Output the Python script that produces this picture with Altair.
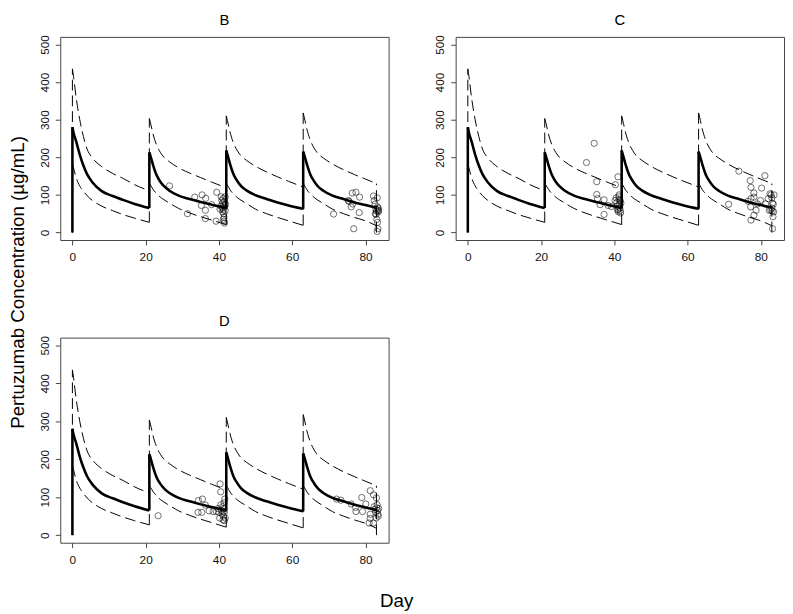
import altair as alt
import pandas as pd

FONT = "Liberation Sans"

# ---- simulated model profiles ----
DOSE_DAYS = [0, 21, 42, 63]
OFFSETS = [0, 0.3, 1, 2, 3, 4, 5.5, 8, 11, 14, 17, 21]
OFFSETS_LAST = [0, 0.3, 1, 2, 3, 4, 5.5, 8, 11, 14, 17, 20]

MEDIAN_C1 = [280, 265, 243, 207, 178, 155, 133, 110, 97, 86, 76, 65]
MEDIAN_C2 = [213, 204, 180, 152, 135, 123, 111, 98, 89, 81, 74, 65]
MEDIAN_C3 = [218, 208, 183, 154, 137, 124, 112, 99, 89, 80, 72, 63]
MEDIAN_C4 = [215, 206, 182, 153, 136, 123, 111, 98, 89, 80, 73, 66]

UPPER_C1 = [435, 415, 360, 300, 255, 222, 198, 175, 157, 143, 127, 111]
UPPER_C2 = [303, 292, 262, 232, 213, 200, 188, 172, 158, 146, 134, 119]
UPPER_C3 = [310, 298, 268, 237, 218, 204, 192, 176, 161, 148, 136, 121]
UPPER_C4 = [318, 306, 275, 244, 224, 210, 198, 182, 167, 154, 142, 130]

LOWER_C1 = [182, 172, 146, 124, 110, 98, 85, 70, 58, 47, 38, 27]
LOWER_C2 = [130, 126, 115, 103, 94, 87, 78, 64, 52, 42, 33, 21]
LOWER_C3 = [130, 126, 114, 102, 93, 86, 77, 62, 50, 40, 31, 19]
LOWER_C4 = [130, 126, 114, 102, 93, 86, 77, 62, 50, 40, 31, 18]

UPPER_END_DROP = 0  # upper band drops back to this value at the last day

# ---- observed concentrations ----
B_DAY = [26.5, 31.4, 33.4, 35.2, 35.4, 36.3, 36.3, 36.4, 38.0, 39.2, 39.4,
         40.3, 40.5, 40.6, 40.8, 41.0, 41.0, 41.1, 41.2, 41.3, 41.3, 41.4, 41.4,
         41.5, 41.5, 41.6, 41.7, 41.7, 41.8, 41.2, 41.0,
         71.3, 75.3, 75.5, 76.1, 76.4, 76.5, 76.8, 77.4, 78.3, 78.4,
         82.2, 82.4, 82.6, 82.8, 83.0, 83.2, 83.3, 83.4, 83.5, 82.9, 83.1, 83.3,
         83.4, 83.2, 82.7, 83.5, 83.6]
B_CONC = [124, 50, 94, 72, 100, 59, 37, 91, 74, 30, 107,
          62, 70, 95, 85, 65, 78, 90, 60, 50, 72, 40, 30,
          25, 82, 68, 95, 58, 75, 35, 55,
          49, 85, 83, 68, 105, 76, 10, 107, 53, 94,
          97, 85, 75, 63, 57, 92, 68, 60, 55, 48, 35, 27,
          10, 3, 50, 65, 58]

C_DAY = [32.4, 34.5, 35.2, 35.2, 35.4, 36.1, 37.2, 37.2, 38.3, 39.2, 40.3, 41.0,
         40.2, 40.5, 40.7, 40.8, 41.0, 41.1, 41.2, 41.3, 41.4, 41.5, 41.6, 41.7,
         41.3, 40.9, 41.8, 41.6,
         71.2, 74.0, 76.5, 77.1, 77.2, 77.3, 77.3, 77.3, 78.1, 78.1, 78.1, 78.7,
         79.1, 79.9, 80.2, 81.1, 81.3, 82.0, 82.3,
         82.5, 82.8, 83.0, 83.2, 83.4, 82.7, 83.1, 83.5, 83.3, 83.2, 83.6, 83.0]
C_CONC = [186, 237, 135, 101, 90, 74, 87, 48, 72, 69, 127, 148,
          85, 92, 80, 70, 62, 55, 95, 88, 75, 65, 58, 52,
          100, 60, 78, 85,
          75, 163, 83, 138, 68, 120, 90, 33, 105, 94, 46, 59,
          76, 85, 118, 151, 76, 90, 59,
          103, 100, 92, 78, 75, 60, 57, 55, 42, 10, 100, 65]

D_DAY = [23.4, 34.3, 34.4, 35.3, 35.5, 36.3, 37.3, 38.4, 39.3, 40.3, 40.5,
         39.8, 40.0, 40.2, 40.5, 40.7, 40.9, 41.0, 41.1, 41.2, 41.3, 41.4, 41.5,
         41.5, 41.6, 41.7, 41.2,
         72.1, 73.3, 76.1, 77.3, 77.4, 79.0, 79.2, 80.1, 81.3, 81.3, 81.3, 81.0,
         82.2, 82.2,
         82.4, 82.6, 82.8, 83.0, 83.1, 83.3, 83.4, 83.5, 83.2, 82.9, 83.6]
D_CONC = [51, 60, 91, 60, 95, 79, 64, 62, 62, 135, 114,
          70, 60, 45, 80, 65, 55, 75, 40, 50, 70, 85, 60,
          38, 95, 45, 62,
          95, 92, 82, 73, 62, 99, 62, 82, 117, 55, 44, 32,
          106, 32,
          75, 68, 60, 98, 72, 65, 55, 50, 80, 45, 70]

PANELS = ["B", "C", "D"]
X_TICKS = [0, 20, 40, 60, 80]
Y_TICKS = [0, 100, 200, 300, 400, 500]
Y_TITLE = "Pertuzumab Concentration (\u00b5g/mL)"
X_TITLE = "Day"

# ---- build tables ----
med_cycles = [MEDIAN_C1, MEDIAN_C2, MEDIAN_C3, MEDIAN_C4]
up_cycles = [UPPER_C1, UPPER_C2, UPPER_C3, UPPER_C4]
lo_cycles = [LOWER_C1, LOWER_C2, LOWER_C3, LOWER_C4]

curve_rows, jump_rows = [], []
for kind, cycles in (("median", med_cycles), ("upper", up_cycles), ("lower", lo_cycles)):
    prev = 0
    for k, (d0, vals) in enumerate(zip(DOSE_DAYS, cycles)):
        offs = OFFSETS_LAST if k == len(DOSE_DAYS) - 1 else OFFSETS
        for t, v in zip(offs, vals):
            curve_rows.append({"kind": kind, "seg": f"{kind}{k}", "day": d0 + t, "conc": v})
        jump_rows.append({"kind": kind, "day": d0, "conc": prev, "conc2": vals[0]})
        prev = vals[-1]
    if kind == "upper":
        jump_rows.append({"kind": kind, "day": DOSE_DAYS[-1] + OFFSETS_LAST[-1],
                          "conc": UPPER_END_DROP, "conc2": prev})
curves = pd.DataFrame(curve_rows)
jumps = pd.DataFrame(jump_rows)

xenc = alt.X("day:Q",
             scale=alt.Scale(domain=[-3.32, 86.32], nice=False, zero=False),
             axis=alt.Axis(values=X_TICKS, title=None, labelPadding=7))
yenc = alt.Y("conc:Q",
             scale=alt.Scale(domain=[-20, 520], nice=False, zero=False),
             axis=alt.Axis(values=Y_TICKS, title=None, labelAngle=270,
                           labelAlign="center", labelBaseline="alphabetic",
                           labelPadding=7))

DASH = [11, 5]


def panel(name, days, concs, height):
    obs = pd.DataFrame({"day": days, "conc": concs})
    med = alt.Chart(curves).transform_filter(alt.datum.kind == "median").mark_line(
        interpolate="monotone", color="black", strokeWidth=2.6).encode(
        x=xenc, y=yenc, detail="seg:N")
    band = alt.Chart(curves).transform_filter(alt.datum.kind != "median").mark_line(
        interpolate="monotone", color="black", strokeWidth=1, strokeDash=DASH).encode(
        x=xenc, y=yenc, detail="seg:N")
    med_j = alt.Chart(jumps).transform_filter(alt.datum.kind == "median").mark_rule(
        color="black", strokeWidth=2.6).encode(x=xenc, y=yenc, y2="conc2:Q")
    band_j = alt.Chart(jumps).transform_filter(alt.datum.kind != "median").mark_rule(
        color="black", strokeWidth=1, strokeDash=DASH).encode(x=xenc, y=yenc, y2="conc2:Q")
    pts = alt.Chart(obs).mark_point(shape="circle", size=40, filled=False,
                                    color="black", strokeWidth=0.8).encode(x=xenc, y=yenc)
    return alt.layer(band_j, band, med_j, med, pts).properties(
        width=333, height=height,
        view=alt.ViewBackground(stroke="#444", strokeWidth=1),
        title=alt.TitleParams(name, fontSize=15, font=FONT, fontWeight="normal",
                              anchor="middle", offset=7, color="black"))


pB = panel("B", B_DAY, B_CONC, 206)
pC = panel("C", C_DAY, C_CONC, 206)
pD = panel("D", D_DAY, D_CONC, 208)

ylab = alt.Chart(pd.DataFrame({"t": [Y_TITLE]})).mark_text(
    angle=270, fontSize=19, font=FONT, color="black").encode(
    text="t:N", x=alt.value(6), y=alt.value(249)).properties(
    width=14, height=500, view=alt.ViewBackground(strokeOpacity=0))

grid = alt.vconcat(alt.hconcat(pB, pC, spacing=44), pD, spacing=50)
chart = alt.hconcat(ylab, grid, spacing=10).properties(
    padding={"left": 0, "top": 0, "right": 0, "bottom": 0},
    title=alt.TitleParams(X_TITLE, orient="bottom", anchor="middle", fontSize=19,
                          font=FONT, fontWeight="normal", offset=27, color="black"),
).configure_axis(
    domain=False, grid=False, tickColor="#444", tickSize=5, labelFont=FONT,
    labelFontSize=12, labelColor="#111",
).configure_view(stroke=None)

chart.save("out.html", embed_options={"renderer": "svg", "actions": False})
